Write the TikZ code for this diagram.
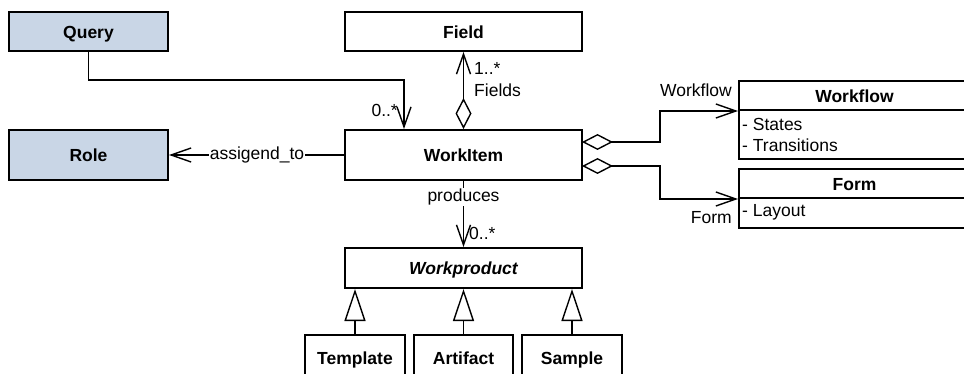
\documentclass[tikz,border=0pt]{standalone}
\usepackage{fontspec}
\setmainfont{Liberation Sans}
\usetikzlibrary{arrows.meta,calc}
\definecolor{qblue}{HTML}{C9D6E6}
\tikzset{
  box/.style={draw=black, line width=2pt, fill=white, inner sep=0pt, text height=13.5pt, text depth=0pt, font=\fontsize{17.5}{20}\selectfont\bfseries},
  bluebox/.style={box, fill=qblue},
  conn/.style={line width=1.4pt, line cap=butt},
  openarr/.style={-{Straight Barb[length=20pt,width=14pt,line width=1.4pt]}},
  agg/.style={{Diamond[open,length=31pt,width=16pt,line width=1.4pt]}-{Straight Barb[length=20pt,width=14pt,line width=1.4pt]}},
  gen/.style={-{Triangle[open,length=32pt,width=21pt,line width=1.4pt]}},
  lbl/.style={font=\fontsize{17.5}{20}\selectfont, inner sep=1pt},
  attr/.style={font=\fontsize{17.5}{20}\selectfont, inner sep=0pt, anchor=west}
}
\begin{document}
\begin{tikzpicture}[x=1pt,y=-1pt]
\useasboundingbox (0,0) rectangle (964,374);
\node[bluebox, minimum width=159pt, minimum height=39pt] (query) at (88.5,31.5) {Query};
\node[box, minimum width=237pt, minimum height=39pt] (field) at (463.5,31.5) {Field};
\node[bluebox, minimum width=159pt, minimum height=50pt] (role) at (88.5,155) {Role};
\node[box, minimum width=237pt, minimum height=50pt] (workitem) at (463.5,155) {WorkItem};
\node[box, minimum width=237pt, minimum height=40pt] (workproduct) at (463.5,268) {\itshape Workproduct};
\node[box, minimum width=100pt, minimum height=45pt] (template) at (355,357.5) {Template};
\node[box, minimum width=99pt, minimum height=45pt] (artifact) at (463.5,357.5) {Artifact};
\node[box, minimum width=100pt, minimum height=45pt] (sample) at (572,357.5) {Sample};
% Workflow class
\node[box, minimum width=231pt, minimum height=29pt] (wfhead) at (854.5,95.5) {Workflow};
\node[box, minimum width=231pt, minimum height=49pt] (wfbody) at (854.5,134.5) {};
\node[attr] (wfa1) at (742,124) {- States};
\node[attr] (wfa2) at (742,145) {- Transitions};
% Form class
\node[box, minimum width=231pt, minimum height=29pt] (fmhead) at (854.5,183.5) {Form};
\node[box, minimum width=231pt, minimum height=30pt] (fmbody) at (854.5,213) {};
\node[attr] (fma1) at (742,212) {- Layout};
% connectors
\coordinate (q1) at (404,80);
\draw[conn, openarr] (query.south) |- (q1) -- (q1 |- workitem.north);
\node[lbl, anchor=east] (m1) at (399,110) {0..*};
\draw[conn, agg] (workitem.north) -- (field.south);
\node[lbl, anchor=west] (m2) at (473,68) {1..*};
\node[lbl, anchor=west] (r2) at (473,90) {Fields};
\draw[conn, openarr] (workitem.west) -- (role.east);
\node[lbl, fill=white] (assign) at (257,155) {assigend\_to};
\coordinate (w0) at (582,142);
\coordinate (w1) at (660,142);
\draw[conn, agg] (w0) -- (w1) |- (wfhead.south west);
\node[lbl, anchor=east] (wlab) at (733,90) {Workflow};
\coordinate (f0) at (582,166);
\coordinate (f1) at (660,166);
\draw[conn, agg] (f0) -- (f1) |- (fmhead.south west);
\node[lbl, anchor=east] (flab) at (733,218) {Form};
\draw[conn, openarr] (workitem.south) -- (workproduct.north);
\node[lbl, fill=white] (prod) at (463.5,197) {produces};
\node[lbl, anchor=west] (m3) at (468,233) {0..*};
\draw[conn, gen] (template.north) -- (template.north |- workproduct.south);
\draw[conn, gen] (artifact.north) -- (workproduct.south);
\draw[conn, gen] (sample.north) -- (sample.north |- workproduct.south);
\end{tikzpicture}
\end{document}
